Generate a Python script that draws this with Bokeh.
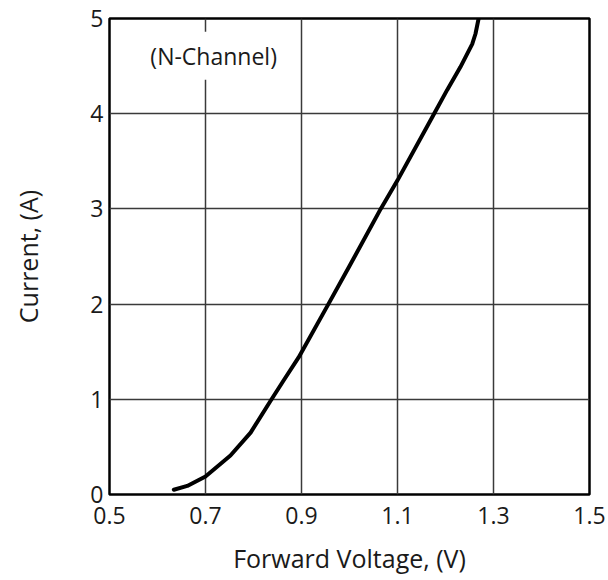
from bokeh.plotting import figure
from bokeh.models import FixedTicker, Label
from bokeh.embed import file_html
from bokeh.resources import INLINE

# Forward voltage (V) vs source-drain current (A), N-Channel
voltage = [0.634, 0.662, 0.70, 0.752, 0.794, 0.835, 0.863, 0.894, 0.956, 1.00,
           1.065, 1.10, 1.172, 1.2035, 1.231, 1.2556, 1.2625, 1.269]
current = [0.05, 0.09, 0.19, 0.41, 0.65, 0.98, 1.20, 1.44, 2.00, 2.40,
           3.00, 3.30, 3.96, 4.25, 4.49, 4.73, 4.84, 5.00]
x_ticks = [0.5, 0.7, 0.9, 1.1, 1.3, 1.5]
y_ticks = [0, 1, 2, 3, 4, 5]
annotation = "(N-Channel)"

FONT = "Open Sans"

p = figure(width=608, height=580, output_backend="svg", toolbar_location=None,
           x_range=(0.5, 1.5), y_range=(0, 5),
           min_border_left=109, min_border_right=19, min_border_top=18, min_border_bottom=86)

p.line(voltage, current, line_color="black", line_width=4, line_join="round", line_cap="round")

p.xaxis.ticker = FixedTicker(ticks=x_ticks)
p.yaxis.ticker = FixedTicker(ticks=y_ticks)
p.xaxis.axis_label = "Forward Voltage, (V)"
p.yaxis.axis_label = "Current, (A)"

for ax in (p.xaxis, p.yaxis):
    ax.axis_line_color = None
    ax.major_tick_line_color = None
    ax.minor_tick_line_color = None
    ax.major_tick_in = 0
    ax.major_tick_out = 0
    ax.minor_tick_in = 0
    ax.minor_tick_out = 0
    ax.major_label_text_font = FONT
    ax.major_label_text_font_size = "23px"
    ax.major_label_text_color = "#1a1a1a"
    ax.axis_label_text_font = FONT
    ax.axis_label_text_font_size = "25px"
    ax.axis_label_text_font_style = "normal"
    ax.axis_label_text_color = "#1a1a1a"

p.xaxis.major_label_standoff = 12
p.xaxis.axis_label_standoff = 14
p.yaxis.major_label_standoff = 6
p.yaxis.axis_label_standoff = 42

p.grid.grid_line_color = "#3a3a3a"
p.grid.grid_line_width = 1.5
p.xgrid.ticker = FixedTicker(ticks=x_ticks)
p.ygrid.ticker = FixedTicker(ticks=y_ticks)

p.outline_line_color = "black"
p.outline_line_width = 2.5
p.background_fill_color = "white"
p.border_fill_color = "white"

lab = Label(x=0.717, y=4.61, text=annotation, text_font=FONT, text_font_size="23px",
            text_color="#1a1a1a", text_align="center", text_baseline="middle",
            background_fill_color="white", padding=8)
p.add_layout(lab)

open("out.html", "w").write(file_html(p, INLINE))
